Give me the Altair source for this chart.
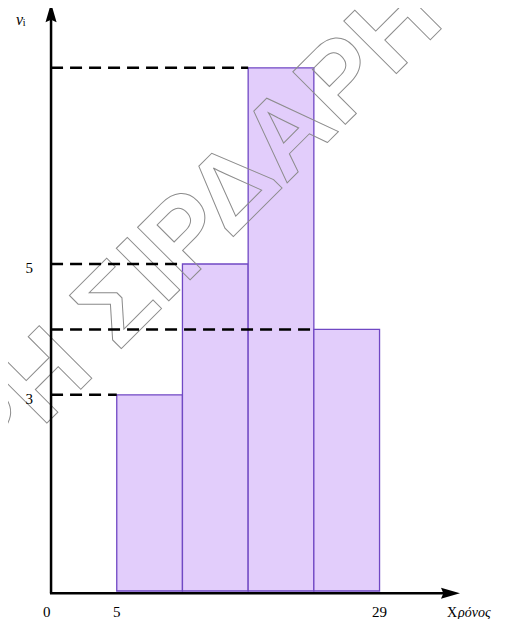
import altair as alt
import pandas as pd

# ---- data ----
bin_left = [5, 11, 17, 23]
bin_right = [11, 17, 23, 29]
freq = [3, 5, 8, 4]
ytick_vals = [3, 5]
ytick_labels = ["3", "5"]
xtick_pos = [-1.4, 5, 29]
xtick_labels = ["0", "5", "29"]
x_title_a = "Χ"
x_title_b = "ρόνος"
y_title = "ν"
y_sub = "i"
watermark = "ΡΗ ΣΙΡΔΑΡΗ"

W, H = 499, 611
xs = alt.Scale(domain=[-4.9315, 40.639], nice=False, zero=False)
ys = alt.Scale(domain=[-0.428, 8.914], nice=False, zero=False)
AX0 = -1.0      # x position of vertical axis
AY0 = -0.035    # y position of horizontal axis
SERIF = "Liberation Serif"
LAB_Y = -0.39   # baseline of x tick labels

bars_df = pd.DataFrame({"l": bin_left, "r": bin_right, "f": freq, "x0": [AX0] * 4})

bars = alt.Chart(bars_df).mark_rect(
    fill="#e2cdfb", stroke="#7048c4", strokeWidth=1.3
).encode(
    x=alt.X("l:Q", scale=xs, axis=None), x2="r:Q",
    y=alt.Y("f:Q", scale=ys, axis=None), y2=alt.datum(0),
)

wm = alt.Chart(pd.DataFrame({"t": [watermark], "x": [35.11], "y": [8.677]})).mark_text(
    font="Liberation Sans", fontWeight="bold", fontSize=108, angle=315, align="right",
    baseline="alphabetic", fillOpacity=0, stroke="#8c8c8c", strokeWidth=1
).encode(x=alt.X("x:Q", scale=xs, axis=None), y=alt.Y("y:Q", scale=ys, axis=None), text="t:N")

dashes = alt.Chart(bars_df).mark_rule(
    color="black", strokeWidth=2.5, strokeDash=[12, 7]
).encode(
    x=alt.X("x0:Q", scale=xs, axis=None), x2="l:Q",
    y=alt.Y("f:Q", scale=ys, axis=None),
)

yaxis = alt.Chart(pd.DataFrame({"x": [AX0], "y": [AY0], "y2": [8.75]})).mark_rule(
    color="black", strokeWidth=2.5
).encode(x=alt.X("x:Q", scale=xs, axis=None), y=alt.Y("y:Q", scale=ys, axis=None), y2="y2:Q")

xaxis = alt.Chart(pd.DataFrame({"x": [AX0 - 0.1], "x2": [34.9], "y": [AY0]})).mark_rule(
    color="black", strokeWidth=2.5
).encode(x=alt.X("x:Q", scale=xs, axis=None), x2="x2:Q", y=alt.Y("y:Q", scale=ys, axis=None))

ARROW = "M0,-1L0.35,0.2L0,0.05L-0.35,0.2Z"
up_arrow = alt.Chart(pd.DataFrame({"x": [AX0], "y": [8.746]})).mark_point(
    shape=ARROW, size=1000, filled=True, color="black", opacity=1, angle=0
).encode(x=alt.X("x:Q", scale=xs, axis=None), y=alt.Y("y:Q", scale=ys, axis=None))

right_arrow = alt.Chart(pd.DataFrame({"x": [34.9], "y": [AY0]})).mark_point(
    shape=ARROW, size=1000, filled=True, color="black", opacity=1, angle=90
).encode(x=alt.X("x:Q", scale=xs, axis=None), y=alt.Y("y:Q", scale=ys, axis=None))

ylab = alt.Chart(pd.DataFrame({"v": ytick_vals, "t": ytick_labels, "x": [-2.65] * 2})).mark_text(
    font=SERIF, fontSize=15, align="right", baseline="middle", dy=4, color="black"
).encode(x=alt.X("x:Q", scale=xs, axis=None), y=alt.Y("v:Q", scale=ys, axis=None), text="t:N")

xlab = alt.Chart(pd.DataFrame({"v": xtick_pos, "t": xtick_labels, "y": [LAB_Y] * 3})).mark_text(
    font=SERIF, fontSize=15, align="center", baseline="alphabetic", color="black"
).encode(x=alt.X("v:Q", scale=xs, axis=None), y=alt.Y("y:Q", scale=ys, axis=None), text="t:N")

xt1 = alt.Chart(pd.DataFrame({"x": [35.16], "y": [LAB_Y], "t": [x_title_a]})).mark_text(
    font=SERIF, fontSize=14, align="left", baseline="alphabetic", color="black"
).encode(x=alt.X("x:Q", scale=xs, axis=None), y=alt.Y("y:Q", scale=ys, axis=None), text="t:N")

xt2 = alt.Chart(pd.DataFrame({"x": [36.16], "y": [LAB_Y], "t": [x_title_b]})).mark_text(
    font=SERIF, fontSize=14, fontStyle="italic", align="left", baseline="alphabetic", color="black"
).encode(x=alt.X("x:Q", scale=xs, axis=None), y=alt.Y("y:Q", scale=ys, axis=None), text="t:N")

yt1 = alt.Chart(pd.DataFrame({"x": [-4.2], "y": [8.73], "t": [y_title]})).mark_text(
    font=SERIF, fontSize=16, fontStyle="italic", align="left", baseline="middle", color="black"
).encode(x=alt.X("x:Q", scale=xs, axis=None), y=alt.Y("y:Q", scale=ys, axis=None), text="t:N")

yt2 = alt.Chart(pd.DataFrame({"x": [-3.58], "y": [8.68], "t": [y_sub]})).mark_text(
    font=SERIF, fontSize=10, align="left", baseline="middle", color="black"
).encode(x=alt.X("x:Q", scale=xs, axis=None), y=alt.Y("y:Q", scale=ys, axis=None), text="t:N")

chart = alt.layer(
    bars, wm, dashes, yaxis, xaxis, up_arrow, right_arrow, ylab, xlab, xt1, xt2, yt1, yt2
).properties(
    width=W, height=H, autosize=alt.AutoSizeParams(type="none"), padding=0,
    background="white",
).configure_view(stroke=None)

chart.save("out.html", embed_options={"renderer": "svg", "actions": False})
